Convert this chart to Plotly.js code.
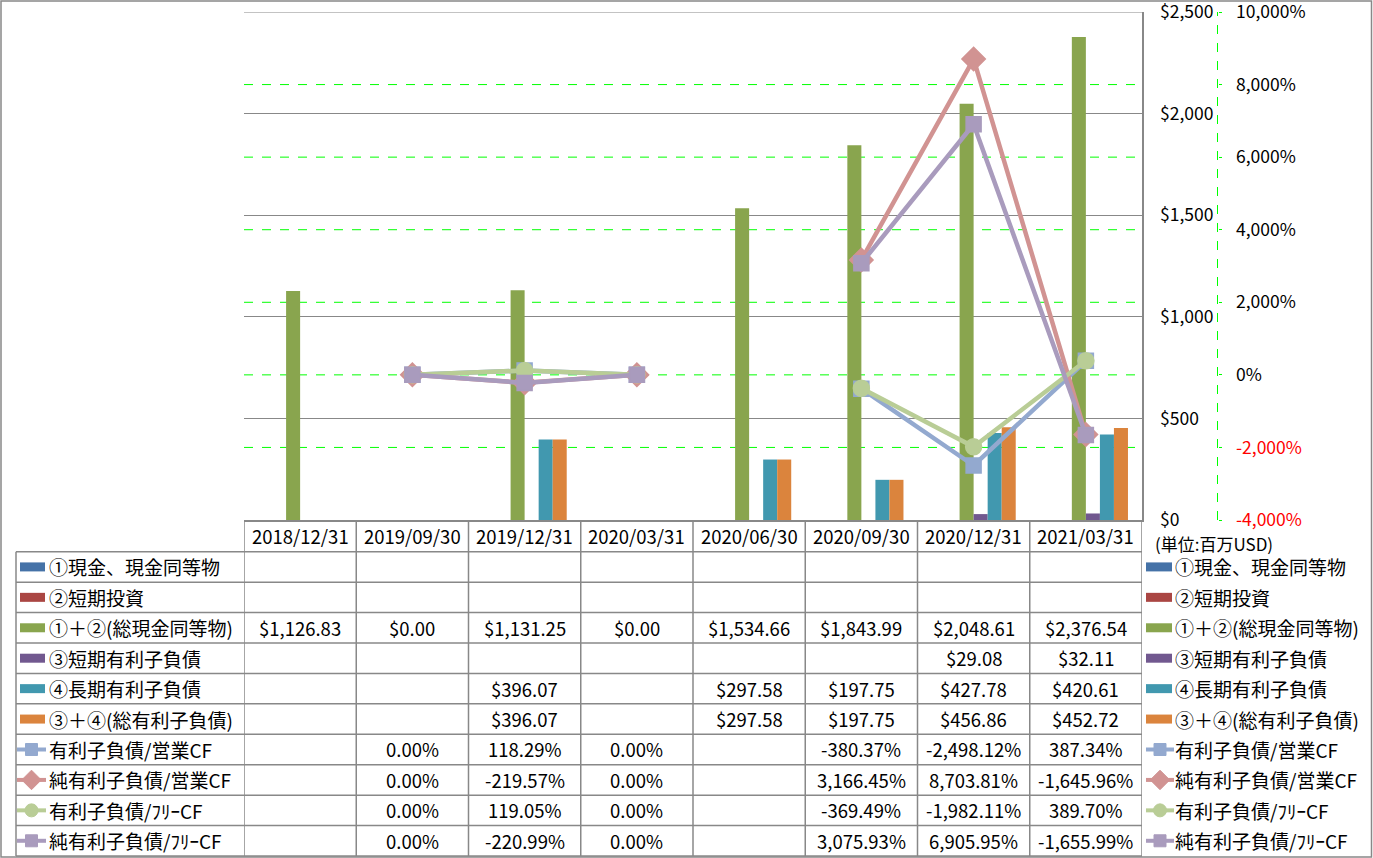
<!DOCTYPE html>
<html>
<head>
<meta charset="utf-8">
<script src="https://cdn.plot.ly/plotly-3.0.1.min.js"></script>
<style>html,body{margin:0;padding:0;background:#fff;}#chart{width:1373px;height:858px;}</style>
</head>
<body>
<div id="chart"></div>
<script>
// ---------- data ----------
const categories = ['2018/12/31','2019/09/30','2019/12/31','2020/03/31','2020/06/30','2020/09/30','2020/12/31','2021/03/31'];
const seriesNames = ['①現金、現金同等物','②短期投資','①＋②(総現金同等物)','③短期有利子負債','④長期有利子負債','③＋④(総有利子負債)','有利子負債/営業CF','純有利子負債/営業CF','有利子負債/ﾌﾘｰCF','純有利子負債/ﾌﾘｰCF'];
const cashEq       = [null,null,null,null,null,null,null,null];
const shortInv     = [null,null,null,null,null,null,null,null];
const totalCash    = [1126.83,0,1131.25,0,1534.66,1843.99,2048.61,2376.54];
const shortDebt    = [null,null,null,null,null,null,29.08,32.11];
const longDebt     = [null,null,396.07,null,297.58,197.75,427.78,420.61];
const totalDebt    = [null,null,396.07,null,297.58,197.75,456.86,452.72];
const debtOpCF     = [null,0,118.29,0,null,-380.37,-2498.12,387.34];
const netDebtOpCF  = [null,0,-219.57,0,null,3166.45,8703.81,-1645.96];
const debtFreeCF   = [null,0,119.05,0,null,-369.49,-1982.11,389.70];
const netDebtFreeCF= [null,0,-220.99,0,null,3075.93,6905.95,-1655.99];
const usdTicks = [0,500,1000,1500,2000,2500];
const pctTicks = [-4000,-2000,0,2000,4000,6000,8000,10000];
const unitLabel = '(単位:百万USD)';

// ---------- styles ----------
const W = 1373, H = 858;
const PX = x => x / W, PY = y => 1 - y / H;
const plotL = 244, plotR = 1142, plotT = 12, plotB = 520;
const rowTop = 551.7, rowH = 30.43;
const FONT = '"Noto Sans CJK JP", "Noto Sans", sans-serif';
const barColors = ['#4572A7','#AA4643','#89A54E','#71588F','#4198AF','#DB843D'];
const lineColors = ['#93A9CF','#D19392','#B9CD96','#A99BBD'];
const symbols = ['square','diamond','circle','square'];
const mSizes = [15,18,16,15];
const keySizes = [12,15,13,12];
const gridGreen = '#00FF00';
const gray = '#888888';
const EPS = 1e-3;

const barSeries = [cashEq, shortInv, totalCash, shortDebt, longDebt, totalDebt];
const lineSeries = [debtOpCF, netDebtOpCF, debtFreeCF, netDebtFreeCF];

const traces = [];
barSeries.forEach((s, i) => {
  traces.push({type:'bar', x:categories, y:s, name:seriesNames[i], marker:{color:barColors[i]},
    xaxis:'x', yaxis:'y', hoverinfo:'skip', showlegend:false});
});
lineSeries.forEach((s, i) => {
  traces.push({type:'scatter', mode:'lines+markers', x:categories, y:s, name:seriesNames[6+i],
    line:{color:lineColors[i], width:4.5}, connectgaps:false,
    marker:{symbol:symbols[i], size:mSizes[i], color:lineColors[i], line:{color:lineColors[i], width:1.5}},
    xaxis:'x', yaxis:'y2', hoverinfo:'skip', showlegend:false});
});

// legend-key markers (pixel overlay axes)
const rowCenter = k => rowTop + rowH * (k + 0.5);
lineSeries.forEach((s, i) => {
  const yc = rowCenter(6 + i);
  traces.push({type:'scatter', mode:'markers', x:[31.5, 1160], y:[yc, yc],
    marker:{symbol:symbols[i], size:keySizes[i], color:lineColors[i], line:{color:lineColors[i], width:1}},
    xaxis:'x3', yaxis:'y3', hoverinfo:'skip', showlegend:false});
});

// ---------- formatting ----------
const fmt2 = v => v.toLocaleString('en-US', {minimumFractionDigits:2, maximumFractionDigits:2});
const money = v => '$' + fmt2(v);
const pct = v => fmt2(v) + '%';
const tableRows = [
  [cashEq, money],[shortInv, money],[totalCash, money],[shortDebt, money],[longDebt, money],[totalDebt, money],
  [debtOpCF, pct],[netDebtOpCF, pct],[debtFreeCF, pct],[netDebtFreeCF, pct]
];

const shapes = [];
const annotations = [];
const txtFont = {family:FONT, size:18.5, color:'#000'};
const nameFont = {family:FONT, size:19, color:'#000'};

// outer border
shapes.push({type:'rect', xref:'paper', yref:'paper', x0:PX(1), x1:PX(1371.5), y0:PY(857), y1:PY(1), line:{color:gray, width:1.5}});
// green dashed gridlines on % axis
pctTicks.filter(v => v > pctTicks[0] && v < pctTicks[pctTicks.length-1]).forEach(v => {
  shapes.push({type:'line', xref:'paper', yref:'y2', x0:PX(plotL), x1:PX(plotR), y0:v, y1:v, layer:'below', line:{color:gridGreen, width:1, dash:'dash'}});
});
// secondary axis dashed line
shapes.push({type:'line', xref:'paper', yref:'paper', x0:PX(1217.5), x1:PX(1217.5), y0:PY(plotB), y1:PY(plotT), line:{color:gridGreen, width:1, dash:'dash'}});
// top border of plot area (gridline at max)
shapes.push({type:'line', xref:'paper', yref:'y', x0:PX(plotL), x1:PX(plotR), y0:usdTicks[usdTicks.length-1], y1:usdTicks[usdTicks.length-1], line:{color:gray, width:1.2}});

// table vertical lines
for (let i = 0; i <= categories.length; i++) {
  shapes.push({type:'line', xref:'x', yref:'paper', x0:i-0.5, x1:i-0.5, y0:PY(plotB), y1:PY(rowTop + rowH*10), line:{color:gray, width:1.5}});
}
shapes.push({type:'line', xref:'paper', yref:'paper', x0:PX(16), x1:PX(16), y0:PY(rowTop), y1:PY(rowTop + rowH*10), line:{color:gray, width:1.5}});
// table horizontal lines
for (let k = 0; k <= seriesNames.length; k++) {
  const y = rowTop + rowH * k;
  shapes.push({type:'line', xref:'paper', yref:'paper', x0:PX(16), x1:PX(plotR), y0:PY(y), y1:PY(y), line:{color:gray, width:1.5}});
}

// header labels
categories.forEach((c, i) => {
  annotations.push({xref:'x', yref:'paper', x:i, y:PY(536), text:c, showarrow:false, xanchor:'center', yanchor:'middle', font:txtFont});
});
// cell values
tableRows.forEach(([arr, f], k) => {
  arr.forEach((v, i) => {
    if (v === null) return;
    annotations.push({xref:'x', yref:'paper', x:i, y:PY(rowCenter(k)), text:f(v), showarrow:false, xanchor:'center', yanchor:'middle', font:txtFont});
  });
});
// row names + keys (left & right)
seriesNames.forEach((n, k) => {
  const yc = rowCenter(k);
  annotations.push({xref:'paper', yref:'paper', x:PX(47), y:PY(yc), text:n, showarrow:false, xanchor:'left', yanchor:'middle', font:nameFont});
  annotations.push({xref:'paper', yref:'paper', x:PX(1173), y:PY(yc), text:n, showarrow:false, xanchor:'left', yanchor:'middle', font:nameFont});
  if (k < 6) {
    [[20,45],[1146,1172]].forEach(([a,b]) => {
      shapes.push({type:'rect', xref:'paper', yref:'paper', x0:PX(a), x1:PX(b), y0:PY(yc+4.5), y1:PY(yc-4.5), line:{width:0}, fillcolor:barColors[k]});
    });
  } else {
    [[17,46],[1146,1174]].forEach(([a,b]) => {
      shapes.push({type:'line', xref:'paper', yref:'paper', x0:PX(a), x1:PX(b), y0:PY(yc), y1:PY(yc), layer:'below', line:{color:lineColors[k-6], width:4}});
    });
  }
});
annotations.push({xref:'paper', yref:'paper', x:PX(1153), y:PY(543), text:unitLabel, showarrow:false, xanchor:'left', yanchor:'middle', font:{family:FONT, size:17, color:'#000'}});

const layout = {
  width:W, height:H,
  margin:{l:0, r:0, t:0, b:0, pad:0},
  paper_bgcolor:'#ffffff', plot_bgcolor:'rgba(0,0,0,0)',
  showlegend:false,
  barmode:'group', bargap:0.25, bargroupgap:0,
  font:{family:FONT, size:17, color:'#000'},
  xaxis:{domain:[PX(plotL), PX(plotR)], type:'category', range:[-0.5, categories.length-0.5],
    showticklabels:false, ticks:'', showgrid:false, zeroline:false, showline:true, linecolor:gray, linewidth:1.5, anchor:'y'},
  yaxis:{domain:[PY(plotB), PY(plotT)], range:[usdTicks[0]-EPS, usdTicks[usdTicks.length-1]+EPS], side:'right', anchor:'x',
    tickvals:usdTicks, ticktext:usdTicks.map(v => '$' + v.toLocaleString('en-US')),
    showgrid:true, gridcolor:gray, gridwidth:1.2, zeroline:false, showline:true, linecolor:gray, linewidth:1.5,
    ticks:'', ticklabelstandoff:13, ticklabeloverflow:'allow', tickfont:{family:FONT, size:17.5, color:'#000'}},
  yaxis2:{overlaying:'y', side:'right', anchor:'free', position:PX(1217.5),
    range:[pctTicks[0]-EPS, pctTicks[pctTicks.length-1]+EPS], tickvals:pctTicks,
    ticktext:pctTicks.map(v => { const t = v.toLocaleString('en-US') + '%'; return v < 0 ? '<span style="color:#FF0000">' + t + '</span>' : t; }),
    showgrid:false, zeroline:false, showline:false, ticks:'outside', ticklen:3, tickcolor:gridGreen,
    ticklabelstandoff:11, ticklabeloverflow:'allow', tickfont:{family:FONT, size:17.5, color:'#000'}},
  xaxis3:{domain:[0,1], range:[0,W], visible:false, anchor:'y3', fixedrange:true},
  yaxis3:{domain:[0,1], range:[H,0], visible:false, anchor:'x3', fixedrange:true},
  shapes:shapes, annotations:annotations
};

Plotly.newPlot('chart', traces, layout, {staticPlot:true, displayModeBar:false});
</script>
</body>
</html>
